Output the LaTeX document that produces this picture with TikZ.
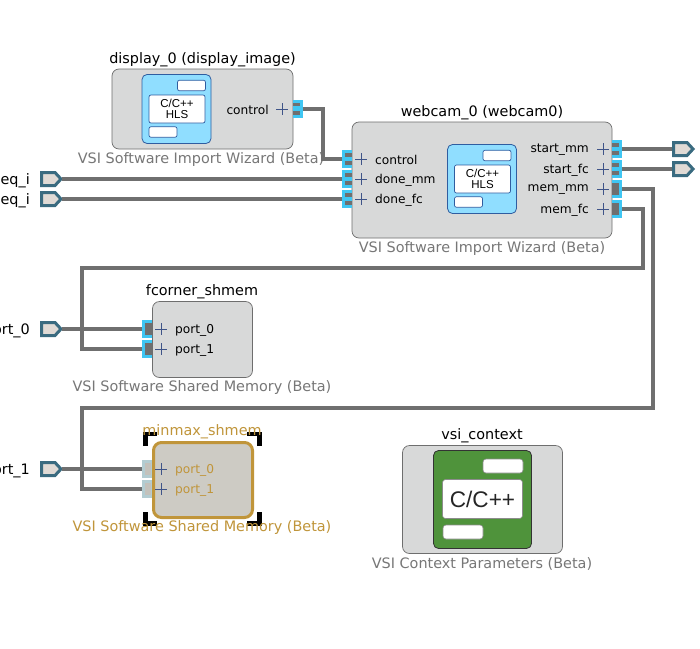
\documentclass[tikz,border=0pt]{standalone}
\usepackage{fontspec}
\setmainfont{DejaVu Sans}
\newfontfamily\lib{Liberation Sans}
\definecolor{boxfill}{HTML}{D8D9D9}
\definecolor{boxline}{HTML}{6E6E6E}
\definecolor{hlsblue}{HTML}{90DEFF}
\definecolor{hlsline}{HTML}{2F5DA0}
\definecolor{portcyan}{HTML}{3FC6F3}
\definecolor{wiregray}{HTML}{6F6F6F}
\definecolor{plusblue}{HTML}{3F5488}
\definecolor{pinteal}{HTML}{3A6B80}
\definecolor{pinfill}{HTML}{E0DAD5}
\definecolor{gold}{HTML}{C0953A}
\definecolor{selfill}{HTML}{CDCBC4}
\definecolor{mutedport}{HTML}{B3CCD1}
\definecolor{mutedstub}{HTML}{C3C1BB}
\definecolor{green1}{HTML}{4F933B}
\definecolor{sub}{HTML}{777777}
\tikzset{
  x=1pt,y=-1pt,
  ipbox/.style={draw=boxline,line width=.7pt,fill=boxfill,rounded corners=7pt,inner sep=0,outer sep=0},
  hlsbox/.style={draw=hlsline,line width=.8pt,fill=hlsblue,rounded corners=5pt,inner sep=0,outer sep=0},
  whitebox/.style={draw=hlsline,line width=.7pt,fill=white,rounded corners=2pt,inner sep=0,outer sep=0,align=center},
  ctxbox/.style={draw=black!80,line width=.8pt,fill=green1,rounded corners=5pt,inner sep=0,outer sep=0},
  ctxwhite/.style={draw=black!45,line width=.6pt,fill=white,rounded corners=3pt,inner sep=0,outer sep=0},
  titlelbl/.style={font=\fontsize{14.4}{14}\selectfont,text=black,inner sep=0,yshift=-.7pt},
  sublbl/.style={font=\fontsize{14.4}{14}\selectfont,text=sub,inner sep=0,yshift=-.7pt},
  portlbl/.style={font=\fontsize{12.2}{12}\selectfont,text=black,inner sep=0},
  pinlbl/.style={font=\fontsize{14.4}{14}\selectfont,text=black,inner sep=0,anchor=east,yshift=-.5pt},
  cyanport/.style={fill=portcyan,minimum width=10pt,minimum height=18pt,inner sep=0,outer sep=0},
  wire/.style={draw=wiregray,line width=4pt,line join=miter},
  extpin/.style={minimum width=22pt,minimum height=15pt,inner sep=0,outer sep=0},
  bracket/.style={draw=black,line width=4.5pt,line cap=butt},
}
\newcommand{\pluslbl}[2]{\draw[plusblue,line width=.8pt] (#1-6,#2)--(#1+6,#2) (#1,#2-6)--(#1,#2+6);}
\newcommand{\hlsicon}[3]{%
  \node[hlsbox,minimum width=69pt,minimum height=69pt] (#1) at (#2+34.5,#3+34.5) {};
  \node[whitebox,minimum width=28pt,minimum height=10.5pt] (#1t) at (#2+49.5,#3+11) {};
  \node[whitebox,minimum width=56pt,minimum height=28pt,font=\lib\fontsize{11.5}{11}\selectfont] (#1c) at (#2+35,#3+34.5) {C/C++\\HLS};
  \node[whitebox,minimum width=28pt,minimum height=10.5pt] (#1b) at (#2+21,#3+57.5) {};
}
\newcommand{\drvstub}[2]{%
  \fill[wiregray] (#1,#2-6) rectangle (#1+7,#2-2.5);
  \fill[wiregray] (#1,#2+1.5) rectangle (#1+7,#2+6);
}
\newcommand{\outpin}[3]{%
  \node[extpin] (#1) at (#2+11,#3) {};
  \draw[pinteal,line width=3pt,fill=pinfill,line join=miter] (#2+1.5,#3-6.5)--(#2+15,#3-6.5)--(#2+21,#3)--(#2+15,#3+6.5)--(#2+1.5,#3+6.5)--cycle;
}
\begin{document}
\begin{tikzpicture}
\useasboundingbox (0,0) rectangle (700,648);
\fill[white] (0,0) rectangle (700,648);

% display_0
\node[ipbox,minimum width=181pt,minimum height=80pt] (disp) at (202.5,109) {};
\hlsicon{dispicon}{142}{74.5}
\node[titlelbl] (dispt) at (202.5,59) {display\_0 (display\_image)};
\node[sublbl] (disps) at (201,159) {VSI Software Import Wizard (Beta)};
\node[portlbl,anchor=east] (dispc) at (269,110) {control};
\pluslbl{282}{109}
\node[cyanport] (dispp) at (297.5,109) {};
\fill[wiregray] (293,102.5) rectangle (300,106);
\fill[wiregray] (293,111) rectangle (300,115);

% webcam_0
\node[ipbox,minimum width=260pt,minimum height=116pt] (web) at (482,180) {};
\hlsicon{webicon}{447.5}{144.5}
\node[titlelbl] (webt) at (482,112) {webcam\_0 (webcam0)};
\node[sublbl] (webs) at (482,247.5) {VSI Software Import Wizard (Beta)};
\foreach \n/\y/\t in {a/159/control,b/179/done\_mm,c/199/done\_fc}{
  \node[cyanport] (webl\n) at (347,\y) {};
  \fill[wiregray] (345,\y-6) rectangle (352,\y-2.5);
  \fill[wiregray] (345,\y+1.5) rectangle (352,\y+6);
  \pluslbl{361}{\y}
  \node[portlbl,anchor=west] (webt\n) at (375,\y+1) {\t};
}
\foreach \n/\y/\t in {a/149/start\_mm,b/169/start\_fc,c/189/mem\_mm,d/209/mem\_fc}{
  \node[cyanport] (webr\n) at (617,\y) {};
  \pluslbl{603}{\y}
  \node[portlbl,anchor=east] (webq\n) at (589,\y+1) {\t};
}
\drvstub{612}{149}
\drvstub{612}{169}
\fill[wiregray] (612,183) rectangle (619,195);
\fill[wiregray] (612,203) rectangle (619,215);

% fcorner_shmem
\node[ipbox,minimum width=100pt,minimum height=76pt] (fc) at (202.5,339.5) {};
\node[titlelbl] (fct) at (202,291) {fcorner\_shmem};
\node[sublbl] (fcs) at (202,387) {VSI Software Shared Memory (Beta)};
\foreach \n/\y/\t in {a/329/port\_0,b/349/port\_1}{
  \node[cyanport] (fcp\n) at (147,\y) {};
  \fill[wiregray] (145,\y-6) rectangle (152,\y+6);
  \pluslbl{161}{\y}
  \node[portlbl,anchor=west] (fct\n) at (175,\y+1) {\t};
}

% vsi_context
\node[ipbox,minimum width=160pt,minimum height=108pt] (ctx) at (482.5,499.5) {};
\node[ctxbox,minimum width=98pt,minimum height=98pt] (ctxi) at (482.5,499.5) {};
\node[ctxwhite,minimum width=40pt,minimum height=14pt] (ctxa) at (503,466) {};
\node[ctxwhite,minimum width=80pt,minimum height=39pt,font=\lib\fontsize{22.6}{24}\selectfont,text=black!85] (ctxb) at (482.5,499) {C/C++};
\node[ctxwhite,minimum width=40pt,minimum height=14pt] (ctxc) at (463,532) {};
\node[titlelbl] (ctxt) at (482,435) {vsi\_context};
\node[sublbl] (ctxs) at (482,563) {VSI Context Parameters (Beta)};

% wires
\coordinate (wa) at (323,134);
\coordinate (wb) at (653,408);
\coordinate (wc) at (643,268);
\coordinate (wd) at (82,268);
\coordinate (we) at (82,408);
\draw[wire] (dispp.east) -| (wa) |- (webla.west);

% external pins
\outpin{pa}{40}{179}
\outpin{pb}{40}{199}
\outpin{pc}{40}{329}
\outpin{pd}{40}{469}
\outpin{pe}{672}{149}
\outpin{pf}{672}{169}
\node[pinlbl] (la) at (30,180) {eq\_i};
\node[pinlbl] (lb) at (30,200) {eq\_i};
\node[pinlbl] (lc) at (30,330) {ort\_0};
\node[pinlbl] (ld) at (30,470) {ort\_1};
\draw[wire] (pa.east) -- (weblb.west);
\draw[wire] (pb.east) -- (weblc.west);
\draw[wire] (webra.east) -- (pe.west);
\draw[wire] (webrb.east) -- (pf.west);

% minmax_shmem (selected)
\node[draw=gold,line width=3pt,fill=selfill,rounded corners=8pt,inner sep=0,outer sep=0,minimum width=99pt,minimum height=75pt] (mm) at (203,480) {};
\foreach \n/\y/\t in {a/469/port\_0,b/489/port\_1}{
  \node[fill=mutedport,minimum width=10pt,minimum height=18pt,inner sep=0,outer sep=0] (mmp\n) at (147,\y) {};
  \fill[mutedstub] (145,\y-6) rectangle (151,\y+6);
  \pluslbl{161}{\y}
  \node[portlbl,anchor=west,text=gold] (mmt\n) at (175,\y+1) {\t};
}
\draw[bracket] (145.5,446)--(145.5,434)--(157,434);
\draw[bracket] (259.5,446)--(259.5,434)--(247,434);
\draw[bracket] (145.5,512)--(145.5,523.5)--(157,523.5);
\draw[bracket] (259.5,512)--(259.5,523.5)--(247,523.5);
\node[titlelbl,text=gold] (mmn) at (202,431) {minmax\_shmem};
\node[sublbl,text=gold] (mms) at (202,527) {VSI Software Shared Memory (Beta)};

\draw[wire] (webrc.east) -| (wb) -| (we) |- (mmpb.west);
\draw[wire] (webrd.east) -| (wc) -| (wd) |- (fcpb.west);
\draw[wire] (pc.east) -- (fcpa.west);
\draw[wire] (pd.east) -- (mmpa.west);
\end{tikzpicture}
\end{document}
